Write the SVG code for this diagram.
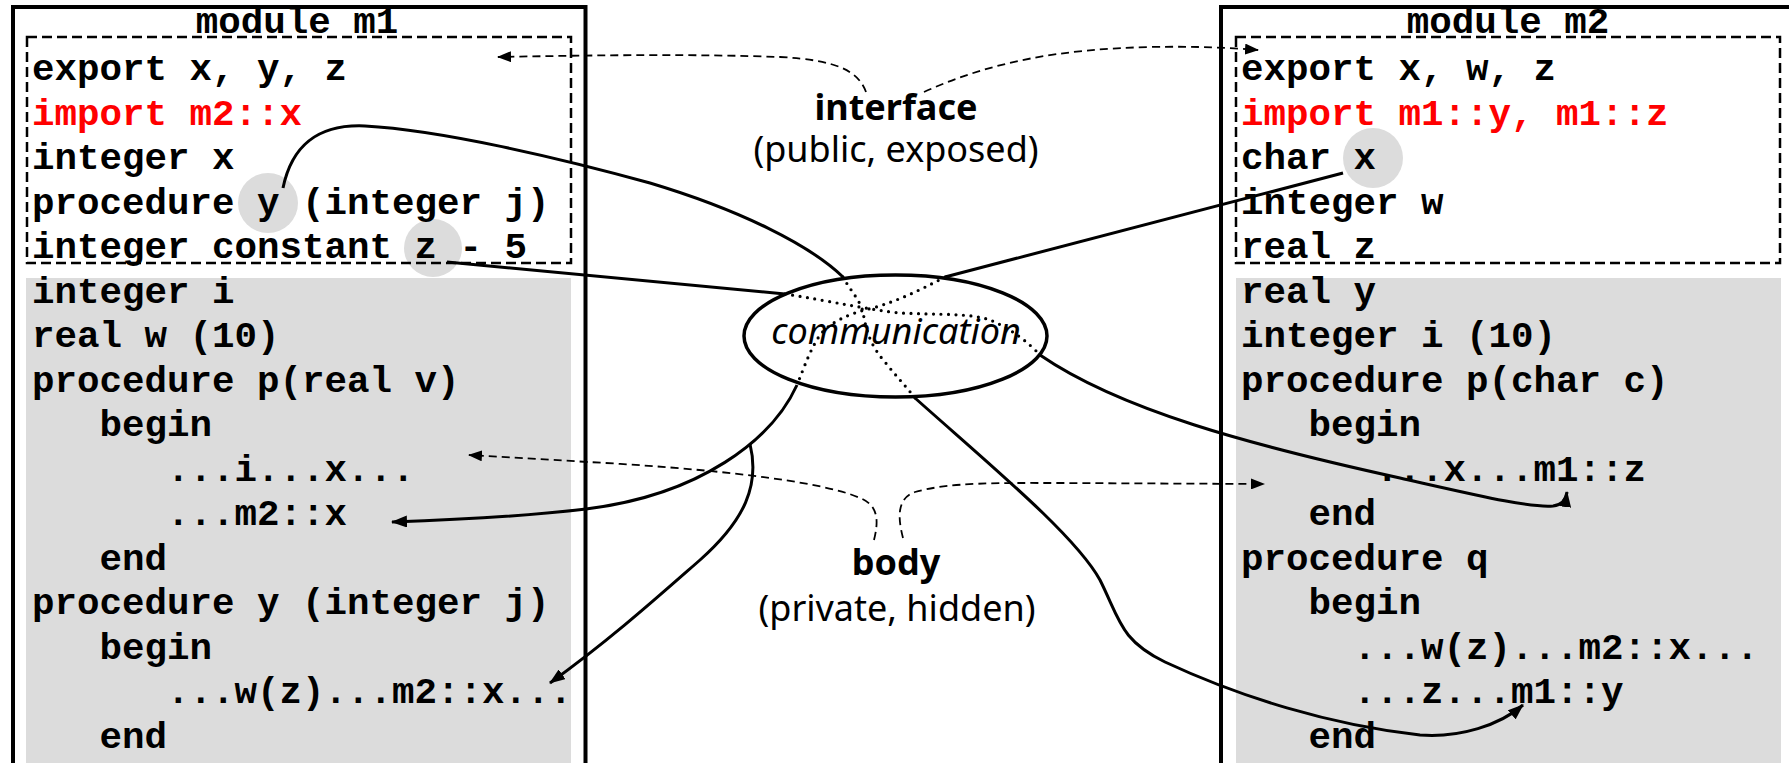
<svg xmlns="http://www.w3.org/2000/svg" width="1789" height="763" viewBox="0 0 1789 763">
  <style>
    .code { font-family: "Liberation Mono", "Courier New", monospace; font-weight: bold; font-size: 37.5px; fill: #000; }
    .imp { fill: #ff0000; }
    .lbl { font-family: "Noto Sans", "DejaVu Sans", sans-serif; font-size: 36px; fill: #000; text-anchor: middle; }
    .b { font-weight: bold; }
    .it { font-style: italic; }
    .frame { fill: none; stroke: #000; stroke-width: 4; }
    .iface { fill: none; stroke: #000; stroke-width: 2.5; stroke-dasharray: 10 5; }
    .body { fill: #dcdcdc; }
    .hl { fill: #dcdcdc; }
    .link { fill: none; stroke: #000; stroke-width: 3; }
    .dot { fill: none; stroke: #000; stroke-width: 3.2; stroke-linecap: round; stroke-dasharray: 0 7.5; }
    .hint { fill: none; stroke: #000; stroke-width: 1.8; stroke-dasharray: 8 5; }
  </style>
  <defs>
    <marker id="arrow" markerUnits="userSpaceOnUse" viewBox="0 0 16 12" refX="15" refY="6" markerWidth="16" markerHeight="12" orient="auto">
      <path d="M0,0 L16,6 L0,12 z" fill="#000"/>
    </marker>
    <marker id="arrow-small" markerUnits="userSpaceOnUse" viewBox="0 0 14 11" refX="13" refY="5.5" markerWidth="14" markerHeight="11" orient="auto">
      <path d="M0,0 L14,5.5 L0,11 z" fill="#000"/>
    </marker>
  </defs>

  <rect width="1789" height="763" fill="#fff"/>

  <!-- module m1 -->
  <g id="module-m1">
    <rect class="body" x="26" y="278" width="545" height="500"/>
    <circle class="hl" cx="268" cy="203" r="30"/>
    <circle class="hl" cx="433" cy="248" r="29"/>
    <rect class="iface" x="27" y="37" width="544" height="226"/>
    <text class="code" x="297" y="33" text-anchor="middle">module m1</text>
    <text class="code" x="32" y="80">export x, y, z</text>
    <text class="code imp" x="32" y="124.5">import m2::x</text>
    <text class="code" x="32" y="169">integer x</text>
    <text class="code" x="32" y="213.5">procedure y (integer j)</text>
    <text class="code" x="32" y="258">integer constant z - 5</text>
    <text class="code" x="32" y="302.5">integer i</text>
    <text class="code" x="32" y="347">real w (10)</text>
    <text class="code" x="32" y="391.5">procedure p(real v)</text>
    <text class="code" x="99.5" y="436">begin</text>
    <text class="code" x="167" y="480.5">...i...x...</text>
    <text class="code" x="167" y="525">...m2::x</text>
    <text class="code" x="99.5" y="569.5">end</text>
    <text class="code" x="32" y="614">procedure y (integer j)</text>
    <text class="code" x="99.5" y="658.5">begin</text>
    <text class="code" x="167" y="703">...w(z)...m2::x...</text>
    <text class="code" x="99.5" y="747.5">end</text>
    <rect class="frame" x="13" y="7" width="572.5" height="800"/>
  </g>

  <!-- module m2 -->
  <g id="module-m2">
    <rect class="body" x="1236" y="278" width="545" height="500"/>
    <circle class="hl" cx="1373" cy="158" r="30"/>
    <rect class="iface" x="1236" y="37" width="544" height="226"/>
    <text class="code" x="1508" y="33" text-anchor="middle">module m2</text>
    <text class="code" x="1241" y="80">export x, w, z</text>
    <text class="code imp" x="1241" y="124.5">import m1::y, m1::z</text>
    <text class="code" x="1241" y="169">char x</text>
    <text class="code" x="1241" y="213.5">integer w</text>
    <text class="code" x="1241" y="258">real z</text>
    <text class="code" x="1241" y="302.5">real y</text>
    <text class="code" x="1241" y="347">integer i (10)</text>
    <text class="code" x="1241" y="391.5">procedure p(char c)</text>
    <text class="code" x="1308.5" y="436">begin</text>
    <text class="code" x="1376" y="480.5">...x...m1::z</text>
    <text class="code" x="1308.5" y="525">end</text>
    <text class="code" x="1241" y="569.5">procedure q</text>
    <text class="code" x="1308.5" y="614">begin</text>
    <text class="code" x="1353.5" y="658.5">...w(z)...m2::x...</text>
    <text class="code" x="1353.5" y="703">...z...m1::y</text>
    <text class="code" x="1308.5" y="747.5">end</text>
    <rect class="frame" x="1221" y="7" width="574" height="800"/>
  </g>

  <!-- captions -->
  <g id="interface-label">
    <text class="lbl b" x="896" y="120">interface</text>
    <text class="lbl" x="896" y="162">(public, exposed)</text>
  </g>
  <g id="body-label">
    <text class="lbl b" x="896" y="575">body</text>
    <text class="lbl" x="897" y="621">(private, hidden)</text>
  </g>

  <!-- communication hub -->
  <g id="communication">
    <ellipse cx="895.5" cy="336" rx="151.5" ry="61" fill="none" stroke="#000" stroke-width="3.5"/>
    <text class="lbl it" x="896" y="344">communication</text>
  </g>

  <g id="connectors">
    <!-- interface / body pointers -->
    <path class="hint" d="M866,92 C858,70 835,60 780,57 C700,54 600,55 498,57" marker-end="url(#arrow-small)"/>
    <path class="hint" d="M924,92 C990,62 1060,49 1150,47 C1200,46 1230,48 1258,50" marker-end="url(#arrow-small)"/>
    <path class="hint" d="M874,540 C879,520 878,505 860,498 C820,480 700,468 588,462 C540,459 500,457 469,455" marker-end="url(#arrow-small)"/>
    <path class="hint" d="M903,538 C897,515 898,498 915,492 C950,482 1000,483 1060,483 L1264,484" marker-end="url(#arrow-small)"/>

    <!-- m1::y -> m2 q body -->
    <path class="link" d="M283,188 C292,145 318,124 365,126 C440,130 560,158 650,183 C740,210 810,245 843,277"/>
    <path class="dot" d="M843,277 C850,290 860,300 863,312 C866,330 870,345 885,362 C895,375 905,385 915,398"/>
    <path class="link" d="M915,398 C990,465 1075,535 1100,580 C1120,620 1120,640 1165,662 C1240,697 1330,725 1420,735 C1460,738 1500,725 1523,705" marker-end="url(#arrow)"/>

    <!-- m1::z -> m2 p body -->
    <path class="link" d="M447,262 L785,294"/>
    <path class="dot" d="M785,294 C830,301 870,310 900,313 C940,315 970,313 990,320 C1010,328 1028,342 1040,355"/>
    <path class="link" d="M1040,355 C1120,410 1250,445 1400,478 C1480,496 1530,508 1553,506 C1562,505 1566,500 1567,492" marker-end="url(#arrow)"/>

    <!-- m2::x -> m1 bodies -->
    <path class="link" d="M1343,173 L945,277"/>
    <path class="dot" d="M945,277 C920,290 900,300 873,308 C850,313 830,322 820,335 C810,350 805,365 797,385"/>
    <path class="link" d="M797,385 C772,440 700,495 586,509 C520,517 450,520 392,522" marker-end="url(#arrow)"/>
    <path class="link" d="M750,444 C760,485 745,520 700,560 C660,595 610,640 550,683" marker-end="url(#arrow)"/>
  </g>
</svg>
